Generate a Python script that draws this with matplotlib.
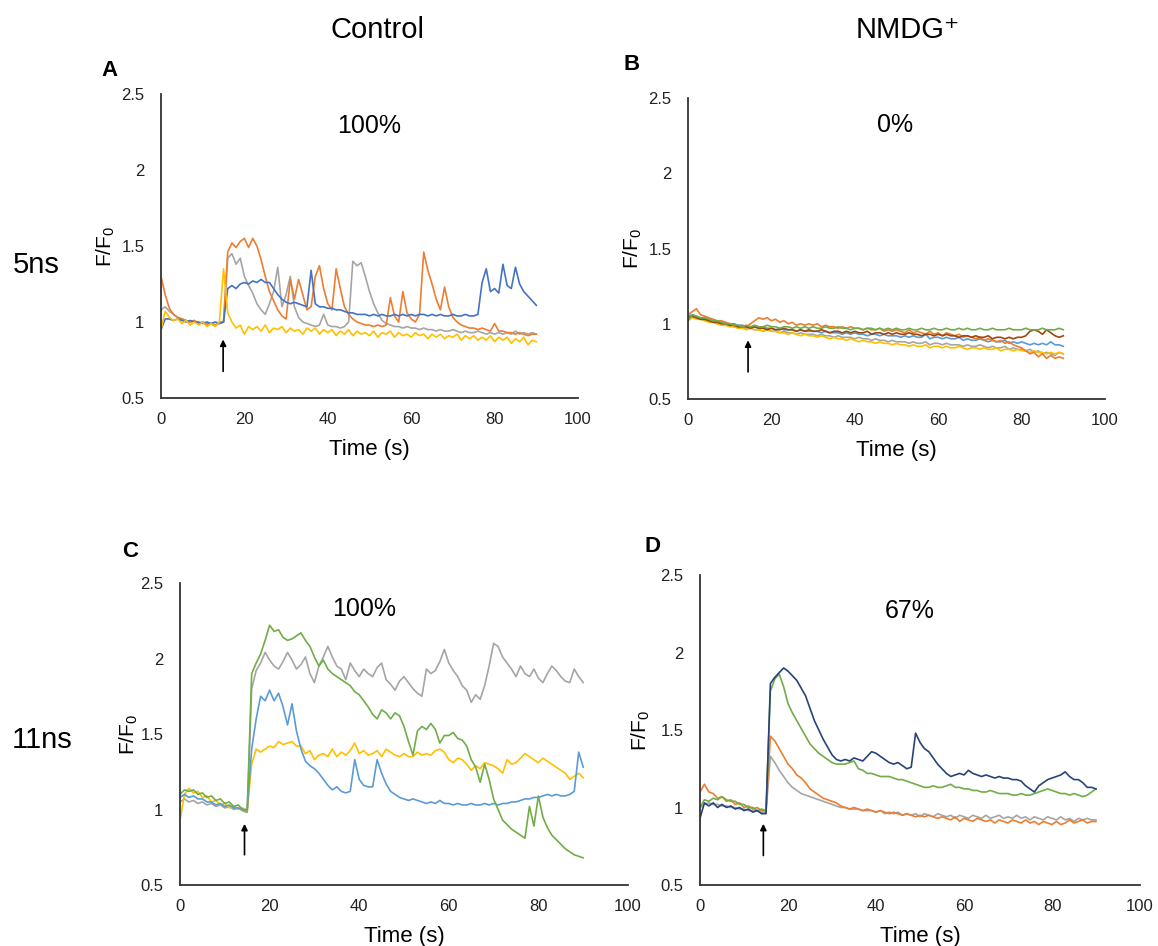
import matplotlib

matplotlib.use("Agg")
import matplotlib.pyplot as plt
import numpy as np

plt.rcParams["font.family"] = ["Liberation Sans", "DejaVu Sans"]
plt.rcParams["mathtext.fontset"] = "custom"
plt.rcParams["mathtext.rm"] = "Liberation Sans"
plt.rcParams["mathtext.it"] = "Liberation Sans"
plt.rcParams["mathtext.bf"] = "Liberation Sans:bold"

# sampling times (s), one reading per second
TIME = np.array(list(range(0, 91)))

X_TICKS = [0, 20, 40, 60, 80, 100]
Y_TICKS = [0.5, 1, 1.5, 2, 2.5]
Y_TICK_LABELS = ["0.5", "1", "1.5", "2", "2.5"]

COLUMN_TITLES = ["Control", "NMDG\u207a"]
ROW_LABELS = ["5ns", "11ns"]
PANEL_LETTERS = ["A", "B", "C", "D"]
PANEL_PERCENT = ["100%", "0%", "100%", "67%"]

# ---- Panel A: 5 ns, control ----
A_ORANGE = [
    1.30, 1.18, 1.09, 1.05, 1.03, 1.02, 1.01, 1.00, 1.01, 0.99,
    1.00, 0.98, 0.99, 0.98, 1.00, 1.00, 1.46, 1.52, 1.49, 1.53,
    1.55, 1.49, 1.55, 1.50, 1.41, 1.30, 1.20, 1.14, 1.08, 1.04,
    1.02, 1.28, 1.15, 1.28, 1.18, 1.08, 1.10, 1.30, 1.37, 1.22,
    1.12, 1.08, 1.35, 1.22, 1.10, 1.05, 1.02, 1.00, 0.99, 0.98,
    0.98, 0.97, 0.98, 0.97, 0.98, 1.16, 1.04, 1.00, 1.20, 1.06,
    1.02, 1.00, 1.05, 1.46, 1.34, 1.25, 1.15, 1.08, 1.23, 1.10,
    1.03, 1.00, 0.98, 0.97, 0.96, 0.96, 0.95, 0.96, 0.95, 0.94,
    0.99, 0.94, 0.94, 0.93, 0.93, 0.92, 0.93, 0.92, 0.91, 0.92, 0.92,
]
A_GRAY = [
    1.08, 1.10, 1.07, 1.05, 1.03, 1.02, 1.01, 1.00, 1.01, 0.99,
    1.00, 0.99, 0.99, 0.98, 0.99, 1.00, 1.42, 1.45, 1.38, 1.42,
    1.30, 1.24, 1.19, 1.12, 1.08, 1.05, 1.12, 1.20, 1.36, 1.10,
    1.18, 1.30, 1.10, 1.03, 1.00, 0.99, 0.98, 0.97, 0.98, 1.05,
    0.98, 0.97, 0.97, 0.96, 0.97, 1.00, 1.40, 1.37, 1.39, 1.30,
    1.20, 1.12, 1.06, 1.01, 0.99, 0.98, 0.97, 0.97, 0.96, 0.97,
    0.96, 0.96, 0.95, 0.96, 0.95, 0.95, 0.94, 0.95, 0.94, 0.94,
    0.95, 0.94, 0.93, 0.94, 0.93, 0.93, 0.94, 0.93, 0.92, 0.93,
    0.92, 0.93, 0.92, 0.93, 0.92, 0.94, 0.92, 0.93, 0.92, 0.93, 0.92,
]
A_BLUE = [
    0.95, 1.02, 1.02, 1.01, 1.02, 1.01, 1.00, 1.01, 1.00, 1.00,
    0.99, 1.00, 0.99, 1.00, 0.99, 1.00, 1.22, 1.24, 1.22, 1.25,
    1.26, 1.25, 1.27, 1.26, 1.28, 1.26, 1.26, 1.22, 1.18, 1.15,
    1.13, 1.12, 1.13, 1.12, 1.11, 1.10, 1.34, 1.12, 1.10, 1.10,
    1.09, 1.09, 1.08, 1.08, 1.07, 1.06, 1.06, 1.05, 1.05, 1.05,
    1.04, 1.05, 1.04, 1.05, 1.04, 1.04, 1.05, 1.04, 1.05, 1.04,
    1.05, 1.04, 1.05, 1.05, 1.04, 1.05, 1.04, 1.05, 1.04, 1.04,
    1.05, 1.04, 1.04, 1.05, 1.04, 1.04, 1.05, 1.26, 1.35, 1.20,
    1.22, 1.19, 1.38, 1.24, 1.22, 1.36, 1.25, 1.20, 1.17, 1.14, 1.11,
]
A_YELLOW = [
    0.95, 1.07, 1.03, 1.01, 1.02, 0.99, 1.01, 0.98, 1.00, 0.98,
    1.00, 0.97, 0.99, 0.97, 1.00, 1.35, 1.06, 1.00, 0.96, 0.98,
    0.92, 0.97, 0.95, 0.97, 0.94, 0.98, 0.93, 0.96, 0.95, 0.97,
    0.93, 0.96, 0.94, 0.95, 0.92, 0.96, 0.94, 0.96, 0.92, 0.95,
    0.93, 0.95, 0.91, 0.94, 0.92, 0.95, 0.91, 0.94, 0.92, 0.93,
    0.91, 0.94, 0.90, 0.93, 0.92, 0.94, 0.90, 0.93, 0.91, 0.92,
    0.90, 0.93, 0.91, 0.92, 0.89, 0.92, 0.90, 0.92, 0.89, 0.91,
    0.90, 0.92, 0.88, 0.91, 0.89, 0.91, 0.88, 0.90, 0.88, 0.91,
    0.87, 0.90, 0.88, 0.90, 0.86, 0.89, 0.87, 0.90, 0.85, 0.88, 0.87,
]

# ---- Panel B: 5 ns, NMDG+ ----
B_GREEN = [
    1.02, 1.06, 1.05, 1.04, 1.04, 1.03, 1.02, 1.02, 1.01, 1.00,
    1.00, 0.99, 0.99, 0.98, 0.99, 0.98, 0.99, 0.98, 0.98, 0.99,
    0.98, 0.98, 0.97, 0.98, 0.98, 0.97, 0.98, 0.97, 0.98, 0.97,
    0.98, 0.97, 0.97, 0.98, 0.97, 0.97, 0.98, 0.97, 0.97, 0.96,
    0.97, 0.97, 0.96, 0.97, 0.97, 0.96, 0.97, 0.96, 0.97, 0.96,
    0.97, 0.96, 0.96, 0.97, 0.96, 0.96, 0.97, 0.96, 0.96, 0.97,
    0.96, 0.96, 0.97, 0.96, 0.96, 0.97, 0.96, 0.97, 0.96, 0.96,
    0.97, 0.96, 0.96, 0.97, 0.96, 0.96, 0.96, 0.97, 0.96, 0.96,
    0.96, 0.97, 0.96, 0.96, 0.96, 0.97, 0.96, 0.96, 0.96, 0.97, 0.96,
]
B_BROWN = [
    1.04, 1.05, 1.04, 1.03, 1.03, 1.02, 1.01, 1.01, 1.00, 1.00,
    0.99, 0.99, 0.98, 0.98, 0.98, 0.97, 0.98, 0.97, 0.97, 0.96,
    0.97, 0.96, 0.96, 0.97, 0.96, 0.96, 0.95, 0.96, 0.95, 0.96,
    0.95, 0.95, 0.96, 0.95, 0.94, 0.95, 0.95, 0.94, 0.95, 0.94,
    0.95, 0.94, 0.94, 0.95, 0.93, 0.94, 0.94, 0.93, 0.94, 0.93,
    0.94, 0.93, 0.93, 0.94, 0.93, 0.93, 0.92, 0.93, 0.93, 0.92,
    0.93, 0.92, 0.93, 0.92, 0.92, 0.91, 0.92, 0.92, 0.91, 0.92,
    0.91, 0.91, 0.92, 0.90, 0.91, 0.91, 0.90, 0.91, 0.90, 0.91,
    0.91, 0.92, 0.95, 0.96, 0.95, 0.93, 0.96, 0.94, 0.92, 0.91, 0.92,
]
B_ORANGE = [
    1.06, 1.08, 1.10, 1.06, 1.05, 1.04, 1.03, 1.02, 1.02, 1.01,
    1.00, 0.99, 0.98, 0.99, 0.98, 1.00, 1.02, 1.04, 1.03, 1.04,
    1.02, 1.03, 1.01, 1.02, 1.00, 1.01, 0.99, 1.00, 0.99, 1.00,
    0.99, 1.00, 0.98, 0.99, 0.98, 0.98, 0.97, 0.98, 0.97, 0.98,
    0.97, 0.97, 0.96, 0.97, 0.96, 0.96, 0.97, 0.95, 0.96, 0.95,
    0.96, 0.95, 0.94, 0.96, 0.94, 0.95, 0.94, 0.93, 0.95, 0.93,
    0.94, 0.92, 0.94, 0.93, 0.92, 0.93, 0.91, 0.92, 0.91, 0.90,
    0.91, 0.89, 0.90, 0.89, 0.88, 0.89, 0.87, 0.88, 0.86, 0.85,
    0.84, 0.82, 0.80, 0.81, 0.78, 0.80, 0.77, 0.79, 0.77, 0.78, 0.77,
]
B_BLUE = [
    1.05, 1.06, 1.05, 1.04, 1.03, 1.03, 1.02, 1.01, 1.01, 1.00,
    1.00, 1.00, 0.99, 0.99, 0.98, 0.98, 0.98, 0.97, 0.98, 0.97,
    0.97, 0.96, 0.97, 0.96, 0.96, 0.96, 0.95, 0.96, 0.95, 0.95,
    0.95, 0.95, 0.94, 0.95, 0.94, 0.94, 0.94, 0.93, 0.94, 0.93,
    0.94, 0.93, 0.93, 0.92, 0.93, 0.93, 0.92, 0.93, 0.92, 0.92,
    0.92, 0.91, 0.92, 0.91, 0.92, 0.91, 0.91, 0.93, 0.90, 0.91,
    0.91, 0.90, 0.91, 0.90, 0.90, 0.91, 0.89, 0.90, 0.89, 0.89,
    0.90, 0.89, 0.88, 0.89, 0.88, 0.88, 0.89, 0.87, 0.88, 0.87,
    0.88, 0.87, 0.86, 0.87, 0.86, 0.87, 0.86, 0.88, 0.86, 0.86, 0.85,
]
B_YELLOW = [
    1.02, 1.04, 1.03, 1.03, 1.02, 1.01, 1.01, 1.00, 0.99, 0.99,
    0.98, 0.98, 0.97, 0.97, 0.96, 0.97, 0.96, 0.96, 0.95, 0.96,
    0.95, 0.95, 0.94, 0.94, 0.93, 0.94, 0.93, 0.92, 0.93, 0.92,
    0.92, 0.91, 0.92, 0.91, 0.90, 0.91, 0.90, 0.90, 0.89, 0.90,
    0.89, 0.88, 0.89, 0.88, 0.88, 0.87, 0.88, 0.87, 0.87, 0.86,
    0.87, 0.86, 0.86, 0.85, 0.86, 0.85, 0.85, 0.86, 0.84, 0.85,
    0.85, 0.84, 0.85, 0.84, 0.84, 0.85, 0.84, 0.83, 0.84, 0.84,
    0.83, 0.84, 0.83, 0.83, 0.84, 0.82, 0.83, 0.83, 0.82, 0.83,
    0.82, 0.82, 0.81, 0.82, 0.81, 0.81, 0.80, 0.81, 0.80, 0.81, 0.80,
]
B_GRAY = [
    1.03, 1.05, 1.04, 1.03, 1.02, 1.02, 1.01, 1.00, 1.00, 0.99,
    0.99, 0.98, 0.98, 0.97, 0.97, 0.97, 0.96, 0.96, 0.95, 0.96,
    0.95, 0.95, 0.94, 0.95, 0.94, 0.94, 0.93, 0.94, 0.93, 0.93,
    0.93, 0.92, 0.93, 0.92, 0.92, 0.91, 0.92, 0.91, 0.91, 0.91,
    0.90, 0.91, 0.90, 0.90, 0.89, 0.90, 0.89, 0.89, 0.88, 0.89,
    0.88, 0.88, 0.88, 0.87, 0.88, 0.87, 0.87, 0.88, 0.86, 0.87,
    0.87, 0.86, 0.87, 0.86, 0.86, 0.86, 0.85, 0.86, 0.85, 0.85,
    0.86, 0.85, 0.84, 0.85, 0.84, 0.84, 0.85, 0.83, 0.84, 0.83,
    0.83, 0.82, 0.83, 0.81, 0.82, 0.80, 0.81, 0.80, 0.79, 0.81, 0.80,
]

# ---- Panel C: 11 ns, control ----
C_GREEN = [
    1.10, 1.13, 1.12, 1.13, 1.10, 1.11, 1.08, 1.09, 1.06, 1.07,
    1.04, 1.05, 1.02, 1.03, 1.00, 0.99, 1.90, 1.97, 2.03, 2.12,
    2.22, 2.18, 2.19, 2.14, 2.12, 2.13, 2.15, 2.17, 2.12, 2.08,
    2.01, 1.95, 1.99, 1.93, 1.90, 1.88, 1.86, 1.84, 1.82, 1.78,
    1.76, 1.72, 1.68, 1.63, 1.60, 1.66, 1.64, 1.60, 1.64, 1.62,
    1.55, 1.45, 1.36, 1.52, 1.55, 1.53, 1.57, 1.53, 1.44, 1.49,
    1.49, 1.51, 1.47, 1.46, 1.42, 1.33, 1.28, 1.18, 1.30, 1.20,
    1.07, 1.00, 0.93, 0.90, 0.87, 0.85, 0.83, 0.81, 1.02, 0.89,
    1.09, 0.95, 0.88, 0.83, 0.80, 0.77, 0.74, 0.72, 0.70, 0.69, 0.68,
]
C_GRAY = [
    1.05, 1.07, 1.05, 1.06, 1.04, 1.05, 1.03, 1.04, 1.02, 1.03,
    1.01, 1.02, 1.00, 1.01, 0.99, 0.98, 1.80, 1.92, 1.97, 2.04,
    1.99, 1.95, 1.93, 1.98, 2.04, 1.99, 1.93, 1.96, 2.01, 1.90,
    1.84, 1.95, 2.01, 2.08, 2.01, 1.95, 1.93, 1.86, 1.97, 1.92,
    1.88, 1.93, 1.90, 1.88, 1.94, 1.97, 1.86, 1.83, 1.79, 1.85,
    1.88, 1.84, 1.80, 1.77, 1.75, 1.93, 1.90, 1.92, 1.98, 2.06,
    1.97, 1.92, 1.88, 1.82, 1.79, 1.71, 1.76, 1.73, 1.82, 1.95,
    2.10, 2.08, 2.01, 1.97, 1.93, 1.88, 1.95, 1.90, 1.88, 1.93,
    1.87, 1.84, 1.90, 1.95, 1.92, 1.88, 1.85, 1.84, 1.93, 1.88, 1.84,
]
C_BLUE = [
    1.08, 1.10, 1.08, 1.09, 1.07, 1.07, 1.05, 1.05, 1.03, 1.04,
    1.02, 1.03, 1.01, 1.01, 1.00, 1.00, 1.40, 1.60, 1.75, 1.72,
    1.79, 1.72, 1.77, 1.68, 1.56, 1.70, 1.52, 1.40, 1.32, 1.29,
    1.27, 1.24, 1.20, 1.16, 1.13, 1.15, 1.12, 1.11, 1.12, 1.33,
    1.20, 1.16, 1.15, 1.15, 1.33, 1.24, 1.17, 1.12, 1.10, 1.08,
    1.07, 1.06, 1.07, 1.06, 1.05, 1.04, 1.05, 1.04, 1.06, 1.04,
    1.04, 1.03, 1.04, 1.03, 1.03, 1.04, 1.03, 1.03, 1.04, 1.03,
    1.04, 1.03, 1.04, 1.04, 1.05, 1.05, 1.06, 1.07, 1.07, 1.08,
    1.08, 1.09, 1.10, 1.09, 1.10, 1.09, 1.09, 1.10, 1.12, 1.38, 1.28,
]
C_YELLOW = [
    0.93, 1.10, 1.14, 1.11, 1.12, 1.08, 1.09, 1.05, 1.06, 1.03,
    1.04, 1.01, 1.02, 1.00, 1.01, 0.99, 1.30, 1.40, 1.38, 1.40,
    1.42, 1.41, 1.45, 1.43, 1.44, 1.45, 1.42, 1.42, 1.37, 1.39,
    1.33, 1.36, 1.37, 1.35, 1.40, 1.35, 1.38, 1.36, 1.39, 1.44,
    1.37, 1.39, 1.36, 1.37, 1.39, 1.35, 1.40, 1.38, 1.36, 1.35,
    1.37, 1.35, 1.35, 1.38, 1.36, 1.37, 1.36, 1.39, 1.40, 1.38,
    1.33, 1.31, 1.34, 1.33, 1.30, 1.26, 1.29, 1.27, 1.31, 1.30,
    1.29, 1.27, 1.24, 1.33, 1.30, 1.31, 1.34, 1.37, 1.35, 1.33,
    1.31, 1.34, 1.32, 1.30, 1.28, 1.26, 1.24, 1.20, 1.22, 1.24, 1.21,
]

# ---- Panel D: 11 ns, NMDG+ ----
D_NAVY = [
    0.93, 1.03, 1.01, 1.03, 1.00, 1.02, 1.00, 1.01, 0.99, 1.00,
    0.98, 0.99, 0.97, 0.98, 0.96, 0.96, 1.80, 1.84, 1.87, 1.90,
    1.88, 1.85, 1.82, 1.77, 1.72, 1.64, 1.56, 1.50, 1.44, 1.39,
    1.34, 1.31, 1.30, 1.31, 1.30, 1.32, 1.31, 1.30, 1.33, 1.36,
    1.35, 1.33, 1.31, 1.29, 1.28, 1.29, 1.27, 1.25, 1.26, 1.48,
    1.42, 1.38, 1.36, 1.32, 1.28, 1.25, 1.22, 1.20, 1.21, 1.22,
    1.21, 1.24, 1.22, 1.21, 1.20, 1.21, 1.20, 1.19, 1.20, 1.19,
    1.19, 1.18, 1.18, 1.17, 1.14, 1.12, 1.10, 1.14, 1.16, 1.18,
    1.19, 1.20, 1.21, 1.23, 1.20, 1.18, 1.18, 1.16, 1.13, 1.13, 1.12,
]
D_GREEN = [
    1.00, 1.05, 1.04, 1.06, 1.05, 1.07, 1.05, 1.04, 1.04, 1.02,
    1.02, 1.00, 1.00, 0.98, 0.99, 0.98, 1.75, 1.83, 1.86, 1.78,
    1.67, 1.61, 1.56, 1.51, 1.46, 1.41, 1.38, 1.35, 1.33, 1.31,
    1.29, 1.28, 1.28, 1.28, 1.29, 1.30, 1.25, 1.24, 1.22, 1.22,
    1.21, 1.20, 1.20, 1.20, 1.19, 1.18, 1.18, 1.17, 1.16, 1.15,
    1.14, 1.13, 1.13, 1.14, 1.13, 1.13, 1.14, 1.15, 1.13, 1.13,
    1.12, 1.12, 1.11, 1.11, 1.10, 1.10, 1.11, 1.10, 1.09, 1.09,
    1.09, 1.08, 1.08, 1.09, 1.08, 1.08, 1.09, 1.10, 1.11, 1.12,
    1.11, 1.10, 1.09, 1.09, 1.08, 1.09, 1.08, 1.07, 1.08, 1.10, 1.12,
]
D_ORANGE = [
    1.10, 1.15, 1.10, 1.09, 1.06, 1.07, 1.04, 1.05, 1.02, 1.03,
    1.00, 1.01, 0.99, 1.00, 0.98, 0.98, 1.46, 1.43, 1.38, 1.33,
    1.28, 1.25, 1.21, 1.19, 1.16, 1.12, 1.10, 1.08, 1.06, 1.05,
    1.04, 1.03, 1.01, 1.00, 0.99, 1.00, 0.99, 0.98, 0.99, 0.98,
    0.97, 0.98, 0.97, 0.96, 0.97, 0.96, 0.95, 0.96, 0.95, 0.94,
    0.95, 0.94, 0.95, 0.94, 0.93, 0.94, 0.93, 0.92, 0.94, 0.91,
    0.93, 0.92, 0.91, 0.93, 0.92, 0.91, 0.92, 0.90, 0.92, 0.91,
    0.90, 0.92, 0.91, 0.90, 0.92, 0.90, 0.91, 0.89, 0.91, 0.90,
    0.89, 0.91, 0.89, 0.90, 0.92, 0.90, 0.91, 0.92, 0.90, 0.91, 0.91,
]
D_GRAY = [
    1.00, 1.02, 1.03, 1.02, 1.02, 1.01, 1.01, 1.00, 1.00, 0.99,
    0.99, 0.98, 0.98, 0.98, 0.97, 0.97, 1.33, 1.29, 1.24, 1.20,
    1.16, 1.13, 1.11, 1.09, 1.08, 1.07, 1.06, 1.05, 1.04, 1.03,
    1.02, 1.01, 1.00, 1.00, 0.99, 0.99, 0.99, 0.98, 0.98, 0.98,
    0.97, 0.98, 0.96, 0.97, 0.96, 0.97, 0.95, 0.96, 0.95, 0.96,
    0.94, 0.96, 0.95, 0.94, 0.96, 0.95, 0.94, 0.95, 0.93, 0.95,
    0.94, 0.93, 0.95, 0.94, 0.93, 0.95, 0.93, 0.94, 0.95, 0.93,
    0.94, 0.93, 0.95, 0.93, 0.94, 0.92, 0.94, 0.93, 0.92, 0.94,
    0.93, 0.92, 0.94, 0.92, 0.93, 0.91, 0.93, 0.92, 0.93, 0.92, 0.92,
]

# Excel-style palette
ORANGE = "#ED7D31"
GRAY = "#A5A5A5"
BLUE = "#4472C4"
LIGHT_BLUE = "#5B9BD5"
YELLOW = "#FFC000"
GREEN = "#70AD47"
NAVY = "#264478"
BROWN = "#9E480E"

PANELS = [
    [(A_GRAY, GRAY), (A_ORANGE, ORANGE), (A_BLUE, BLUE), (A_YELLOW, YELLOW)],
    [(B_GRAY, GRAY), (B_YELLOW, YELLOW), (B_BLUE, LIGHT_BLUE), (B_ORANGE, ORANGE),
     (B_BROWN, BROWN), (B_GREEN, GREEN)],
    [(C_GRAY, GRAY), (C_YELLOW, YELLOW), (C_BLUE, LIGHT_BLUE), (C_GREEN, GREEN)],
    [(D_GRAY, GRAY), (D_ORANGE, ORANGE), (D_GREEN, GREEN), (D_NAVY, NAVY)],
]

W, H = 1158, 946


def px_rect(left, top, right, bottom):
    """Axes rectangle from pixel edges of the reference image."""
    return [left / W, 1 - bottom / H, (right - left) / W, (bottom - top) / H]


AX_RECTS = [
    px_rect(161, 94, 578, 398),
    px_rect(688, 98, 1105, 399),
    px_rect(180, 583, 628, 885),
    px_rect(700, 575, 1140, 885),
]
YLABEL_PAD = [3, 3, 0.5, 6]
# percentage label position (time, F/F0) and arrow (time, tail, head)
PCT_POS = [(50, 2.29), (49.7, 2.32), (41, 2.33), (47.7, 2.27)]
ARROWS = [(14.9, 0.675, 0.885), (14.4, 0.68, 0.89), (14.4, 0.70, 0.905), (14.4, 0.69, 0.895)]
LETTER_POS = [(110, 70), (632, 65), (130, 551), (653, 547)]

fig = plt.figure(figsize=(W / 100, H / 100), dpi=100, facecolor="white")

for i, rect in enumerate(AX_RECTS):
    ax = fig.add_axes(rect)
    for values, color in PANELS[i]:
        ax.plot(TIME, values, color=color, lw=1.2, solid_joinstyle="round")

    ax.set_xlim(0, 100)
    ax.set_ylim(0.5, 2.5)
    ax.set_xticks(X_TICKS)
    ax.set_yticks(Y_TICKS)
    ax.set_yticklabels(Y_TICK_LABELS)
    ax.tick_params(axis="both", length=0, labelsize=12, colors="#222222")
    ax.tick_params(axis="x", pad=10)
    ax.tick_params(axis="y", pad=12)
    for side in ["top", "right"]:
        ax.spines[side].set_visible(False)
    for side in ["left", "bottom"]:
        ax.spines[side].set_color("#333333")
        ax.spines[side].set_linewidth(1.3)

    ax.set_xlabel("Time (s)", fontsize=16, labelpad=9)
    ax.set_ylabel("F/F$_0$", fontsize=15, labelpad=YLABEL_PAD[i])

    ax.text(PCT_POS[i][0], PCT_POS[i][1], PANEL_PERCENT[i], fontsize=18,
            ha="center", va="center")

    t, tail, head = ARROWS[i]
    ax.annotate("", xy=(t, head), xytext=(t, tail),
                arrowprops=dict(arrowstyle="-|>", color="black", lw=1.2,
                                mutation_scale=9, shrinkA=0, shrinkB=0))

    lx, ly = LETTER_POS[i]
    fig.text(lx / W, 1 - ly / H, PANEL_LETTERS[i], fontsize=16,
             fontweight="bold", ha="center", va="center")

fig.text(378 / W, 1 - 30 / H, COLUMN_TITLES[0], fontsize=21, ha="center", va="center")
fig.text(908 / W, 1 - 30 / H, COLUMN_TITLES[1], fontsize=21, ha="center", va="center")
fig.text(36 / W, 1 - 265 / H, ROW_LABELS[0], fontsize=21, ha="center", va="center")
fig.text(42 / W, 1 - 740 / H, ROW_LABELS[1], fontsize=21, ha="center", va="center")

fig.savefig("out.png", dpi=100, facecolor="white")
plt.close(fig)
